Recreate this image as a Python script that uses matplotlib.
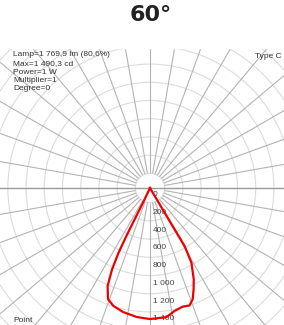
import numpy as np
import matplotlib.pyplot as plt
from matplotlib.patches import Rectangle

plt.rcParams['font.family'] = ['Liberation Sans', 'DejaVu Sans']

title = "60°"
info_lines = ["Lamp=1 769,9 lm (80,6%)", "Max=1 490,3 cd", "Power=1 W", "Multiplier=1", "Degree=0"]
type_label = "Type C"
corner_label = "Point"

# outline of the light curve, angle from nadir in degrees (negative = left side), intensity in cd
curve_deg = [-25.5, -25.5, -26.1, -26.2, -25.9, -25.0, -23.4, -20.7, -17.3, -12.2, -5.8, 0.0,
             7.3, 11.4, 15.5, 18.6, 21.0, 23.3, 25.6, 29.0, 30.8, 30.8, 30.7, 30.7]
curve_cd = [0, 190, 398, 607, 811, 1011, 1201, 1337, 1389, 1429, 1460, 1475,
            1465, 1410, 1385, 1395, 1341, 1241, 1140, 962, 763, 546, 328, 0]

# grid circles and scale labels
ring_cd = [165, 370, 575, 780, 985, 1190, 1395, 1600, 1805, 2010, 2215, 2420]
label_cd = [0, 200, 400, 600, 800, 1000, 1200, 1400]
spoke_deg = np.arange(0, 360, 10)
rmax = 2400

W, H = 284, 325
fig = plt.figure(figsize=(W / 100, H / 100), dpi=100)

# polar area centred at (150, 188) px, bigger than the figure so the grid runs off the edges
cx, cy, R = 150, H - 188, 215
ax = fig.add_axes([(cx - R) / W, (cy - R) / H, 2 * R / W, 2 * R / H], projection='polar')
ax.set_theta_zero_location('S')
ax.set_ylim(0, rmax)
ax.patch.set_visible(False)
ax.spines['polar'].set_visible(False)
ax.set_xticks([])
ax.set_yticks(ring_cd)
ax.set_yticklabels([])
ax.yaxis.grid(True, color='#dcdcdc', lw=0.8)
ax.xaxis.grid(False)

spokes = [d for d in spoke_deg if d not in (90, 270)]
ax.vlines(np.radians(spokes), ring_cd[0], rmax, color='#b4b4b4', lw=0.8)
ax.vlines(np.radians([90, 270]), 0, rmax, color='#9a9a9a', lw=1.0)

ax.plot(np.radians(curve_deg), curve_cd, color='#ee0000', lw=1.6, zorder=4)

for v in label_cd:
    ax.annotate(f"{v:,}".replace(",", " "), xy=(0, v), xytext=(2.2, -4.7),
                textcoords='offset points', fontsize=6, color='#444444',
                ha='left', va='center', zorder=3)

# white band behind the title
fig.add_artist(Rectangle((0, 1 - 48 / H), 1, 48 / H, transform=fig.transFigure,
                         color='white', zorder=5))

fig.text(151 / W, 1 - 15 / H, title, ha='center', va='center', fontsize=16,
         fontweight='bold', family='DejaVu Sans', color='#222222', zorder=6)

for i, line in enumerate(info_lines):
    fig.text(13 / W, 1 - (55 + 8.5 * i) / H, line, ha='left', va='center',
             fontsize=6, color='#333333', zorder=6)
fig.text(255 / W, 1 - 57 / H, type_label, ha='left', va='center', fontsize=6,
         color='#333333', zorder=6)
fig.text(13 / W, 1 - 321 / H, corner_label, ha='left', va='center', fontsize=6,
         color='#333333', zorder=6)

fig.savefig('out.png', dpi=100)
